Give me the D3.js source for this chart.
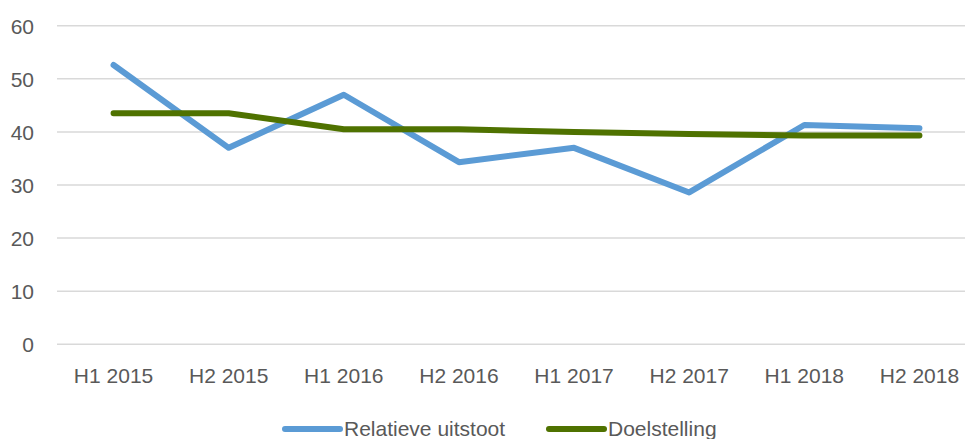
<!DOCTYPE html>
<html>
<head>
<meta charset="utf-8">
<script src="https://cdn.jsdelivr.net/npm/d3@7"></script>
<style>
  body { margin: 0; background: #fff; }
  text { font-family: "Liberation Sans", Arial, sans-serif; fill: #595959; }
</style>
</head>
<body>
<div id="chart"></div>
<script>
(function(){

var width = 965,
	height = 439;

// data
var periods = ["H1 2015","H2 2015","H1 2016","H2 2016","H1 2017","H2 2017","H1 2018","H2 2018"];
var uitstoot = [52.6, 37.0, 47.0, 34.3, 37.0, 28.6, 41.3, 40.7];
var doel = [43.5, 43.5, 40.5, 40.5, 40.0, 39.6, 39.3, 39.3];
var yTicks = [0, 10, 20, 30, 40, 50, 60];
var seriesNames = ["Relatieve uitstoot", "Doelstelling"];
var seriesColors = ["#5b9bd5", "#4f7200"];

var svg = d3.select("#chart").append("svg")
	.attr("width", width)
	.attr("height", height);

var X = d3.scaleBand().domain(periods).range([56, 977]);
var Y = d3.scaleLinear().domain([0, 60]).range([344.3, 25.7]);

// gridlines
svg.selectAll(".grid").data(yTicks).enter().append("line")
	.attr("x1", 57).attr("x2", 977)
	.attr("y1", function(d){ return Y(d); })
	.attr("y2", function(d){ return Y(d); })
	.style("stroke", "#d9d9d9")
	.style("stroke-width", 1.5);

// y labels
var yAxis = svg.append("g").attr("transform", "translate(34,0)")
	.call(d3.axisLeft(Y).tickValues(yTicks).tickSize(0).tickPadding(0));
yAxis.select(".domain").remove();
yAxis.selectAll("text").style("font-size", "21px").style("fill", "#595959")
	.style("font-family", "Liberation Sans, Arial, sans-serif")
	.attr("dy", "0.36em");

// x labels
var xAxis = svg.append("g").attr("transform", "translate(0,344)")
	.call(d3.axisBottom(X).tickSize(0).tickPadding(0));
xAxis.select(".domain").remove();
xAxis.selectAll("text").style("font-size", "21px").style("fill", "#595959")
	.style("font-family", "Liberation Sans, Arial, sans-serif")
	.attr("dy", 0).attr("y", 39.3);

var line = d3.line()
	.x(function(d, i){ return X(periods[i]) + X.bandwidth()/2; })
	.y(function(d){ return Y(d); });

[uitstoot, doel].forEach(function(s, i){
	svg.append("path")
		.datum(s)
		.attr("d", line)
		.style("fill", "none")
		.style("stroke", seriesColors[i])
		.style("stroke-width", 6)
		.style("stroke-linecap", "round")
		.style("stroke-linejoin", "round");
});

// legend
var legendX = [285, 549];
var lg = svg.selectAll(".legend").data(seriesNames).enter().append("g")
	.attr("transform", function(d, i){ return "translate(" + legendX[i] + ",429)"; });
lg.append("line")
	.attr("x1", 0).attr("x2", 55)
	.style("stroke", function(d, i){ return seriesColors[i]; })
	.style("stroke-width", 6)
	.style("stroke-linecap", "round");
lg.append("text")
	.attr("x", 59).attr("y", 6.7)
	.style("font-size", "21px")
	.text(function(d){ return d; });

})();
</script>
</body>
</html>
